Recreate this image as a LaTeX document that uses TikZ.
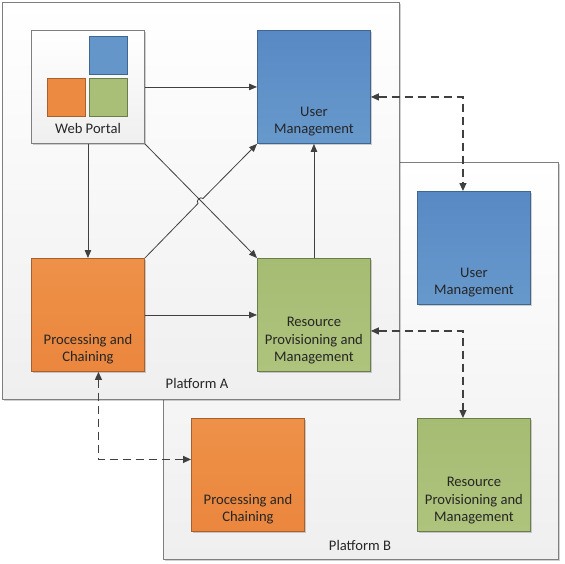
\documentclass[tikz,border=0pt]{standalone}
\usepackage{fontspec}
\setmainfont{Carlito}
\usetikzlibrary{arrows.meta,shadows,calc}
\definecolor{platline}{HTML}{7F7F7F}
\definecolor{platbot}{HTML}{EFEFEF}
\definecolor{blueT}{HTML}{5889C4}
\definecolor{blueB}{HTML}{6899CC}
\definecolor{blueD}{HTML}{3F6591}
\definecolor{orT}{HTML}{EE9148}
\definecolor{orB}{HTML}{EB863D}
\definecolor{orD}{HTML}{A8612D}
\definecolor{grT}{HTML}{A6BC73}
\definecolor{grB}{HTML}{AEC37C}
\definecolor{grD}{HTML}{6B7D4A}
\definecolor{txtc}{HTML}{262626}
\definecolor{arrc}{HTML}{404040}
\begin{document}
\begin{tikzpicture}[x=1pt,y=-1pt,
  softshadow/.style={drop shadow={shadow xshift=1.5pt,shadow yshift=-1.5pt,opacity=0.18,fill=black}},
  plat/.style={draw=platline,line width=1.1pt,top color=white,bottom color=platbot,anchor=north west,inner sep=0pt,softshadow},
  box/.style={minimum width=113pt,minimum height=113pt,inner sep=0pt,anchor=north west,line width=0.9pt,softshadow},
  bluebox/.style={box,draw=blueD,top color=blueT,bottom color=blueB},
  orbox/.style={box,draw=orD,top color=orT,bottom color=orB},
  grbox/.style={box,draw=grD,top color=grT,bottom color=grB},
  wpbox/.style={box,draw=platline,top color=white,bottom color=platbot},
  mini/.style={minimum width=38pt,minimum height=38pt,inner sep=0pt,anchor=north west,line width=0.8pt},
  txt/.style={font=\fontsize{14.6}{17.4}\selectfont,text=txtc,align=center,inner sep=0pt},
  btm/.style={txt,anchor=south,yshift=7.5pt},
  arr/.style={draw=arrc,line width=0.8pt,-{Triangle[length=8pt,width=6.5pt]}},
  darr/.style={draw=arrc,line width=1.3pt,dash pattern=on 8pt off 5pt,{Triangle[length=8pt,width=7pt]}-{Triangle[length=8pt,width=7pt]}}
]
\useasboundingbox (0,0) rectangle (564,564);

% platforms
\node[plat,minimum width=395pt,minimum height=397pt] (platB) at (163,162) {};
\node[plat,minimum width=397pt,minimum height=397pt] (platA) at (2,2) {};
\node[txt] (labA) at (197,383) {Platform A};
\node[txt] (labB) at (360,545) {Platform B};

% platform A boxes
\node[wpbox,label={[txt,anchor=base,yshift=10pt]south:Web Portal}] (wp) at (31,30) {};
\node[mini,draw=blueD,fill=blueB!80!blueT] (wpB) at (89,36) {};
\node[mini,draw=orD,fill=orB!60!orT] (wpO) at (47,78) {};
\node[mini,draw=grD,fill=grT!60!grB] (wpG) at (89,78) {};

\node[bluebox,label={[btm]south:{User\\Management}}] (umA) at (257,30) {};
\node[orbox,label={[btm]south:{Processing and\\Chaining}}] (pcA) at (31,258) {};
\node[grbox,label={[btm]south:{Resource\\Provisioning and\\Management}}] (rpA) at (257,258) {};

% platform B boxes
\node[bluebox,label={[btm]south:{User\\Management}}] (umB) at (417,191) {};
\node[orbox,label={[btm]south:{Processing and\\Chaining}}] (pcB) at (191,418) {};
\node[grbox,label={[btm]south:{Resource\\Provisioning and\\Management}}] (rpB) at (417,418) {};

% solid connectors
\draw[arr] (wp.east) -- (umA.west);
\draw[arr] (wp.south) -- (pcA.north);
\draw[arr] (wp.south east) -- (rpA.north west);
\coordinate (j1) at (198,203.5);
\coordinate (j2) at (203,198.5);
\draw[arr] (pcA.north east) -- (j1) .. controls ($(j1)+(-2.6,-2.6)$) and ($(j2)+(-2.6,-2.6)$) .. (j2) -- (umA.south west);
\draw[arr] (pcA.east) -- (rpA.west);
\draw[arr] (rpA.north) -- (umA.south);

% dashed connectors
\draw[darr] ($(umA.east)+(0,10)$) -| ($(umB.north)+(-11,0)$);
\draw[darr] ($(rpA.east)+(0,16)$) -| ($(rpB.north)+(-11,0)$);
\draw[darr] ($(pcA.south)+(10.5,0)$) |- ($(pcB.west)+(0,-15.5)$);
\end{tikzpicture}
\end{document}
